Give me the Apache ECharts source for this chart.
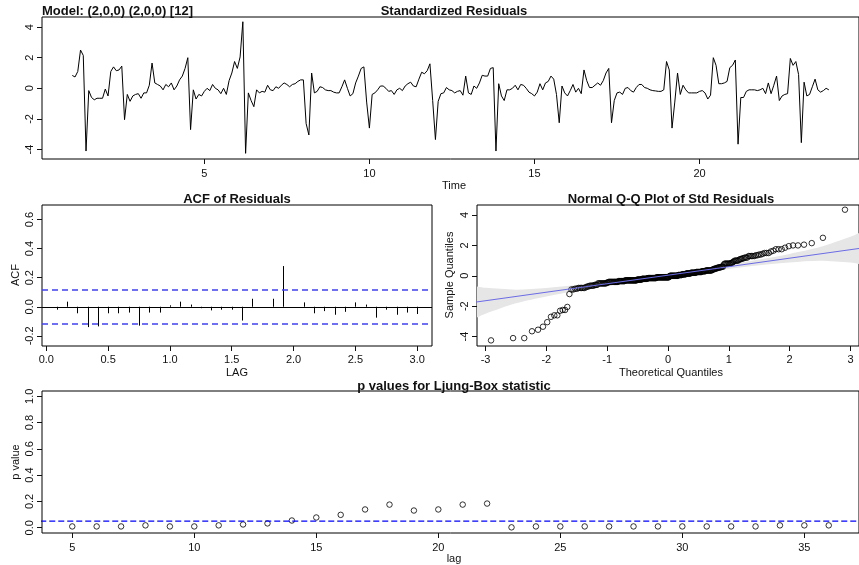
<!DOCTYPE html>
<html>
<head>
<meta charset="utf-8">
<script src="https://cdn.jsdelivr.net/npm/echarts@6/dist/echarts.min.js"></script>
<style>
html,body{margin:0;padding:0;background:#fff;overflow:hidden}
#chart{width:859px;height:565px}
</style>
</head>
<body>
<div id="chart"></div>
<script>
// Standardized residuals of the SARIMA fit, monthly from time 1
const seriesStart = 1;
const seriesFreq = 12;
const residuals = [
  0.84, 0.74, 1.1, 2.5, 2.15, -4.1, -0.15, -0.6, -0.75, -0.65, -0.65, -0.65,
  -0.05, -0.5, 1.1, 1.4, 1.15, 1.2, 1.45, -2.05, -0.4, -0.85, -0.5, -0.4,
  -0.35, -0.65, -0.3, -0.3, 0.2, 1.65, 0.35, 0.25, 0.15, -0.1, 0.25, 0.1,
  0.35, -0.1, 0.15, 0.55, 0.8, 1.3, 2.0, -2.7, -0.1, -0.7, -0.4, -0.5,
  -0.2, 0.0, -0.15, 0.25, 0.0, -0.1, -0.35, 0.0, -0.4, 0.5, 1.0, 1.75,
  1.3, 2.05, 4.35, -4.25, -0.3, -0.8, -1.2, -0.1, -0.3, -0.2, -0.25, 0.2,
  -0.1, -0.15, 0.1, 0.0, 0.2, 0.35, 0.25, 0.1, 0.25, 0.3, 0.45, 0.55,
  0.55, -2.3, -3.05, 1.0, -0.3, -0.2, 0.1, 0.05, -0.1, -0.15, -0.15, -0.25,
  -0.3, -0.3, 0.1, 0.55, 0.0, -0.5, -0.35, 0.35, 0.8, 1.3, 1.4, -0.9,
  -2.6, -0.4, -0.3, -0.1, 0.15, 0.15, 0.0, -0.2, -0.15, -0.4, -0.1, 0.0,
  -0.15, 0.15, 0.3, 0.4, 0.15, 0.1, 0.6, 1.05, 0.95, 1.15, 1.6, -0.8,
  -3.35, -0.85, -0.35, -0.3, 0.05, -0.1, -0.15, -0.3, -0.2, -0.15, -0.45, 0.8,
  -0.3, -0.4, 0.15, 0.0, 0.35, 0.85, 0.8, 0.8, 1.3, 1.35, -4.1, 0.3,
  -0.5, -0.8, -0.1, -0.1, 0.0, 0.2, -0.1, 0.25, 0.2, 0.0, -0.25, -0.35,
  -0.5, -0.25, 0.3, -0.1, 0.35, 0.45, 0.8, 0.6, -0.4, -2.25, 0.15, -0.3,
  -0.5, -0.15, 0.25, -0.25, 0.0, -0.35, 1.2, 0.5, 0.05, 0.05, 0.2, 0.35,
  0.2, 0.5, 1.0, 1.3, -2.25, -0.8, -0.3, -0.25, -0.4, 0.0, 0.05, -0.15,
  -0.25, 0.05, 0.25, 0.25, 0.05, 0.0, -0.1, -0.15, -0.17, -0.2, -0.2, -0.1,
  1.75, 1.2, -2.6, -0.9, 1.0, -0.4, 0.2, -0.1, -0.3, -0.3, -0.3, -0.3,
  -0.2, -0.15, -0.3, -0.7, -0.45, 2.0, 1.5, 0.3, 0.3, 0.35, 0.45, 1.35,
  1.5, 1.85, -3.65, -0.6, -0.6, -0.2, -0.1, -0.1, -0.1, -0.15, -0.1, 0.0,
  -0.35, 0.35, -0.35, 0.2, 0.8, -0.8, -0.5, -0.4, -0.35, 1.95, 1.5, 1.75,
  0.9, -3.55, 0.4, -0.5, -0.4, 0.1, 0.6, -0.1, -0.25, -0.15, 0.0, -0.1
];
const timeTicks = [5, 10, 15, 20];
const residTicks = [-4, -2, 0, 2, 4];

// Residual autocorrelations at lags 1..36 (in years: k/12)
const acfValues = [
  -0.02, 0.035, -0.045, -0.14, -0.135, -0.045, -0.045, -0.04, -0.13, -0.04, -0.04, 0.01,
  0.035, 0.015, -0.01, -0.025, -0.02, -0.02, -0.095, 0.055, 0.0, 0.055, 0.28, 0.0,
  0.03, -0.045, -0.03, -0.055, -0.035, 0.03, 0.015, -0.075, -0.02, -0.055, -0.04, -0.05
];
const acfBound = 0.12;
const acfXTicks = [0, 0.5, 1, 1.5, 2, 2.5, 3];
const acfYTicks = [-0.2, 0, 0.2, 0.4, 0.6];

// Normal Q-Q reference line and confidence band
const qqLineIntercept = 0.04;
const qqLineSlope = 0.56;
const qqBandZ    = [-3.4, -3.0, -2.5, -2.0, -1.5, -1.0, -0.5, 0.0, 0.5, 1.0, 1.5, 2.0, 2.5, 3.0, 3.4];
const qqBandHalf = [1.15, 0.85, 0.45, 0.28, 0.19, 0.15, 0.12, 0.12, 0.12, 0.15, 0.19, 0.28, 0.45, 0.85, 1.15];
const qqXTicks = [-3, -2, -1, 0, 1, 2, 3];
const qqYTicks = [-4, -2, 0, 2, 4];

// Ljung-Box p values for lags 5..36
const lbLags = [5, 6, 7, 8, 9, 10, 11, 12, 13, 14, 15, 16, 17, 18, 19, 20,
                21, 22, 23, 24, 25, 26, 27, 28, 29, 30, 31, 32, 33, 34, 35, 36];
const lbPValues = [0.01, 0.01, 0.01, 0.018, 0.01, 0.01, 0.018, 0.025, 0.033, 0.055, 0.078, 0.098,
                   0.139, 0.176, 0.131, 0.139, 0.176, 0.184, 0.003, 0.01, 0.01, 0.01, 0.01, 0.01,
                   0.01, 0.01, 0.01, 0.01, 0.01, 0.018, 0.018, 0.018];
const lbLevel = 0.05;
const lbXTicks = [5, 10, 15, 20, 25, 30, 35];
const lbYTicks = [0, 0.2, 0.4, 0.6, 0.8, 1.0];

// Inverse standard normal CDF (Acklam's rational approximation)
function qnorm(p) {
  const a = [-3.969683028665376e+01, 2.209460984245205e+02, -2.759285104469687e+02,
             1.383577518672690e+02, -3.066479806614716e+01, 2.506628277459239e+00];
  const b = [-5.447609879822406e+01, 1.615858368580409e+02, -1.556989798598866e+02,
             6.680131188771972e+01, -1.328068155288572e+01];
  const c = [-7.784894002430293e-03, -3.223964580411365e-01, -2.400758277161838e+00,
             -2.549732539343734e+00, 4.374664141464968e+00, 2.938163982698783e+00];
  const d = [7.784695709041462e-03, 3.224671290700398e-01, 2.445134137142996e+00,
             3.754408661907416e+00];
  const pl = 0.02425;
  let q, r;
  if (p < pl) {
    q = Math.sqrt(-2 * Math.log(p));
    return (((((c[0]*q+c[1])*q+c[2])*q+c[3])*q+c[4])*q+c[5]) / ((((d[0]*q+d[1])*q+d[2])*q+d[3])*q+1);
  }
  if (p > 1 - pl) {
    q = Math.sqrt(-2 * Math.log(1 - p));
    return -(((((c[0]*q+c[1])*q+c[2])*q+c[3])*q+c[4])*q+c[5]) / ((((d[0]*q+d[1])*q+d[2])*q+d[3])*q+1);
  }
  q = p - 0.5; r = q * q;
  return (((((a[0]*r+a[1])*r+a[2])*r+a[3])*r+a[4])*r+a[5])*q / (((((b[0]*r+b[1])*r+b[2])*r+b[3])*r+b[4])*r+1);
}

const n = residuals.length;
const residPoints = residuals.map((v, i) => [seriesStart + i / seriesFreq, v]);
const sortedResid = residuals.slice().sort((x, y) => x - y);
const qqPoints = sortedResid.map((v, i) => [qnorm((i + 0.5) / n), v]);
const acfPoints = acfValues.map((v, k) => [(k + 1) / seriesFreq, v]);
const lbPoints = lbLags.map((l, i) => [l, lbPValues[i]]);

const FONT = "'Liberation Sans', Arial, Helvetica, sans-serif";
const INK = '#111';

function xAx(grid, min, max, ticks, fmt, margin) {
  return {
    type: 'value', gridIndex: grid, min: min, max: max, position: 'bottom',
    axisLine: { show: false, onZero: false },
    splitLine: { show: false },
    axisTick: { show: true, inside: false, length: 5, customValues: ticks, lineStyle: { color: INK, width: 1 } },
    axisLabel: { show: true, customValues: ticks, margin: margin, fontSize: 11, fontFamily: FONT, color: INK,
                 formatter: fmt }
  };
}
function yAx(grid, min, max, ticks, fmt, margin) {
  return {
    type: 'value', gridIndex: grid, min: min, max: max, position: 'left',
    axisLine: { show: false, onZero: false },
    splitLine: { show: false },
    axisTick: { show: true, inside: false, length: 5, customValues: ticks, lineStyle: { color: INK, width: 1 } },
    axisLabel: { show: true, customValues: ticks, rotate: 90, margin: margin, fontSize: 11, fontFamily: FONT,
                 color: INK, formatter: fmt }
  };
}
const intFmt = v => String(Math.round(v));
const oneDec = v => (Math.abs(v) < 1e-9 ? 0 : v).toFixed(1);

function txt(x, y, text, opts) {
  opts = opts || {};
  return {
    type: 'text', x: x, y: y, rotation: opts.rot || 0, z: 100,
    style: {
      text: text, fill: opts.color || INK,
      font: (opts.bold ? 'bold ' : '') + (opts.size || 11) + 'px ' + FONT,
      align: opts.align || 'center', verticalAlign: 'middle'
    }
  };
}

const gridBox = { show: true, borderColor: '#000', borderWidth: 1, backgroundColor: 'transparent', containLabel: false };

const option = {
  animation: false,
  backgroundColor: '#fff',
  grid: [
    Object.assign({ left: 42, top: 17, width: 824, height: 142 }, gridBox),
    Object.assign({ left: 42, top: 205, width: 390, height: 141 }, gridBox),
    Object.assign({ left: 477, top: 205, width: 389, height: 141 }, gridBox),
    Object.assign({ left: 42, top: 391, width: 824, height: 142 }, gridBox)
  ],
  xAxis: [
    xAx(0, 0.083, 24.83, timeTicks, intFmt, 9),
    xAx(1, -0.035, 3.12, acfXTicks, oneDec, 8),
    xAx(2, -3.14, 3.14, qqXTicks, intFmt, 8),
    xAx(3, 3.76, 37.24, lbXTicks, intFmt, 9)
  ],
  yAxis: [
    yAx(0, -4.62, 4.66, residTicks, intFmt, 7),
    yAx(1, -0.27, 0.70, acfYTicks, oneDec, 7),
    yAx(2, -4.62, 4.66, qqYTicks, intFmt, 7),
    yAx(3, -0.04, 1.04, lbYTicks, oneDec, 7)
  ],
  series: [
    {
      name: 'Standardized Residuals', type: 'line', xAxisIndex: 0, yAxisIndex: 0,
      data: residPoints, showSymbol: false, symbol: 'none',
      lineStyle: { color: '#000', width: 1 }, silent: true
    },
    {
      name: 'ACF', type: 'custom', xAxisIndex: 1, yAxisIndex: 1, data: acfPoints, silent: true,
      renderItem: function (params, api) {
        const p0 = api.coord([api.value(0), 0]);
        const p1 = api.coord([api.value(0), api.value(1)]);
        return { type: 'line', shape: { x1: Math.round(p0[0]) + 0.5, y1: p0[1], x2: Math.round(p1[0]) + 0.5, y2: p1[1] },
                 style: { stroke: '#000', lineWidth: 1 } };
      },
      markLine: {
        silent: true, symbol: 'none', animation: false, label: { show: false },
        data: [
          { yAxis: 0, lineStyle: { color: '#000', width: 1, type: 'solid' } },
          { yAxis: acfBound, lineStyle: { color: '#4040f0', width: 1.5, type: [6, 4] } },
          { yAxis: -acfBound, lineStyle: { color: '#4040f0', width: 1.5, type: [6, 4] } }
        ]
      }
    },
    {
      name: 'Q-Q band', type: 'custom', xAxisIndex: 2, yAxisIndex: 2, data: [[0, 0]], clip: true, silent: true, z: 1,
      renderItem: function (params, api) {
        const upper = qqBandZ.map((z, i) => api.coord([z, qqLineIntercept + qqLineSlope * z + qqBandHalf[i]]));
        const lower = qqBandZ.map((z, i) => api.coord([z, qqLineIntercept + qqLineSlope * z - qqBandHalf[i]])).reverse();
        return { type: 'polygon', shape: { points: upper.concat(lower), smooth: 0.3 },
                 style: { fill: '#e6e6e6', stroke: 'none' } };
      }
    },
    {
      name: 'Sample Quantiles', type: 'scatter', xAxisIndex: 2, yAxisIndex: 2, data: qqPoints, z: 3,
      symbol: 'circle', symbolSize: 5.5, silent: true,
      itemStyle: { color: 'transparent', borderColor: '#000', borderWidth: 1 }
    },
    {
      name: 'Q-Q line', type: 'line', xAxisIndex: 2, yAxisIndex: 2, z: 4, silent: true,
      data: [[-3.4, qqLineIntercept - qqLineSlope * 3.4], [3.4, qqLineIntercept + qqLineSlope * 3.4]],
      showSymbol: false, symbol: 'none', lineStyle: { color: '#6b6be6', width: 1 }
    },
    {
      name: 'p value', type: 'scatter', xAxisIndex: 3, yAxisIndex: 3, data: lbPoints,
      symbol: 'circle', symbolSize: 5.5, silent: true,
      itemStyle: { color: 'transparent', borderColor: '#000', borderWidth: 1 }
    },
    {
      name: 'level', type: 'line', xAxisIndex: 3, yAxisIndex: 3, silent: true,
      data: [[0, lbLevel], [40, lbLevel]], showSymbol: false, symbol: 'none',
      lineStyle: { color: '#0000ff', width: 1.2, type: [6, 3] }
    }
  ],
  graphic: [
    txt(42, 11, 'Model: (2,0,0) (2,0,0) [12]', { bold: true, size: 13, align: 'left' }),
    txt(454, 11, 'Standardized Residuals', { bold: true, size: 13 }),
    txt(454, 186, 'Time', { size: 11 }),
    txt(237, 199, 'ACF of Residuals', { bold: true, size: 13 }),
    txt(237, 373, 'LAG', { size: 11 }),
    txt(16, 275, 'ACF', { size: 11, rot: Math.PI / 2 }),
    txt(671, 199, 'Normal Q-Q Plot of Std Residuals', { bold: true, size: 13 }),
    txt(671, 373, 'Theoretical Quantiles', { size: 11 }),
    txt(450, 275, 'Sample Quantiles', { size: 11, rot: Math.PI / 2 }),
    txt(454, 386, 'p values for Ljung-Box statistic', { bold: true, size: 13 }),
    txt(454, 559, 'lag', { size: 11 }),
    txt(16, 462, 'p value', { size: 11, rot: Math.PI / 2 })
  ]
};

const chart = echarts.init(document.getElementById('chart'), null, { renderer: 'canvas', devicePixelRatio: 1 });
chart.setOption(option);
</script>
</body>
</html>
